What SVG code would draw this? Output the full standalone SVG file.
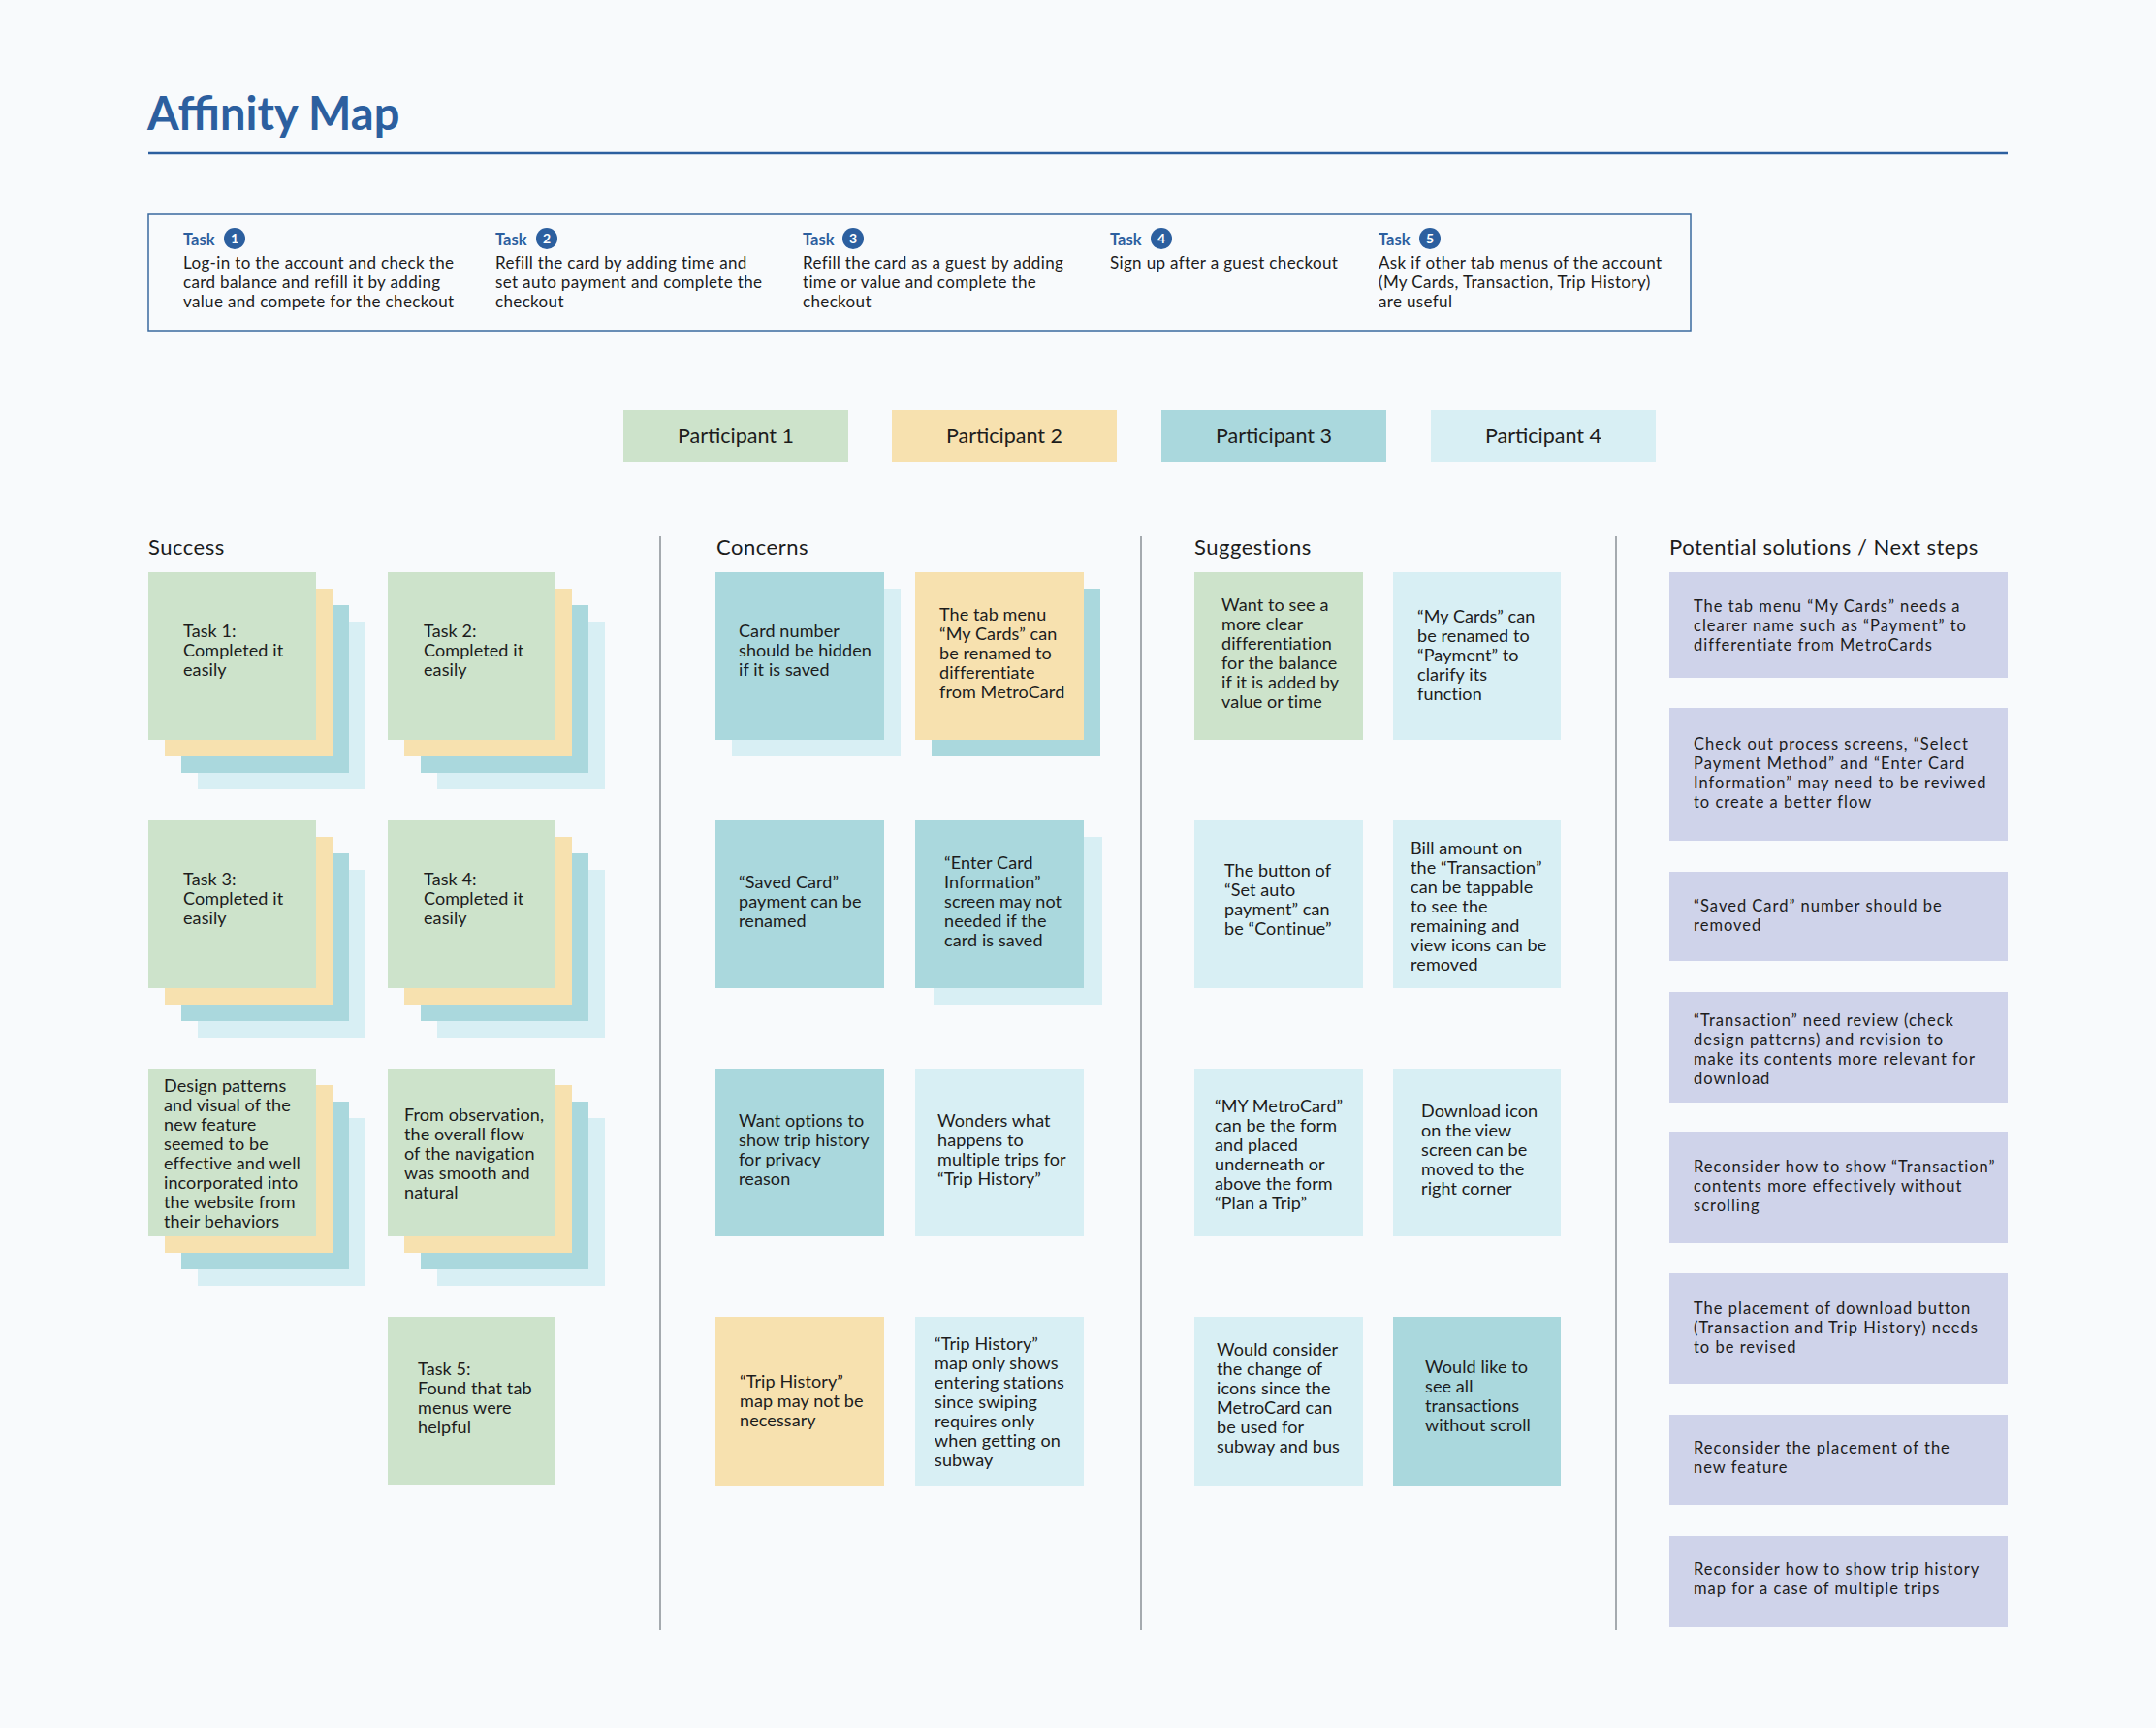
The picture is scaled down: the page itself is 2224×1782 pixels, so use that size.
<svg xmlns="http://www.w3.org/2000/svg" width="2224" height="1782" viewBox="0 0 2224 1782">
<style>
.bg{fill:#f8fafc}
.g{fill:#cde3cb}.y{fill:#f7e1af}.t{fill:#aad8dd}.l{fill:#d8eff4}.v{fill:#cfd3ea}
text{font-family:Lato,"Open Sans",sans-serif;fill:#1c1c1c}
.n{font-size:18px;letter-spacing:0.1px}
.sol{font-size:16.5px;letter-spacing:1px}
.hdr{font-size:22px;letter-spacing:0.5px}
.title{font-size:47px;font-weight:700;fill:#2c5f9f}
.tl{font-size:16.5px;font-weight:700;fill:#2c5f9f}
.tb{font-size:17px;letter-spacing:0.35px}
.num{font-size:14px;font-weight:700;fill:#ffffff}
.circ{fill:#2c5f9f}
.pt{font-size:21.5px;text-anchor:middle}
.div{stroke:#8a8f96;stroke-width:1.5}
</style>
<rect class="bg" x="0" y="0" width="2224" height="1782"/>

<g id="header">
<text class="title" x="152" y="134">Affinity Map</text>
<line x1="153" y1="158" x2="2071" y2="158" stroke="#2c5f9f" stroke-width="2.5"/>
</g>

<g id="tasks">
<rect x="153" y="221" width="1591" height="120" fill="none" stroke="#3a6a9e" stroke-width="1.5"/>
<g id="task1">
<text class="tl" x="189" y="253">Task</text><circle class="circ" cx="242" cy="246" r="11"/><text class="num" x="242" y="251" text-anchor="middle">1</text>
<text class="tb" x="189" y="277">Log-in to the account and check the<tspan x="189" dy="20">card balance and refill it by adding</tspan><tspan x="189" dy="20">value and compete for the checkout</tspan></text>
</g>
<g id="task2">
<text class="tl" x="511" y="253">Task</text><circle class="circ" cx="564" cy="246" r="11"/><text class="num" x="564" y="251" text-anchor="middle">2</text>
<text class="tb" x="511" y="277">Refill the card by adding time and<tspan x="511" dy="20">set auto payment and complete the</tspan><tspan x="511" dy="20">checkout</tspan></text>
</g>
<g id="task3">
<text class="tl" x="828" y="253">Task</text><circle class="circ" cx="880" cy="246" r="11"/><text class="num" x="880" y="251" text-anchor="middle">3</text>
<text class="tb" x="828" y="277">Refill the card as a guest by adding<tspan x="828" dy="20">time or value and complete the</tspan><tspan x="828" dy="20">checkout</tspan></text>
</g>
<g id="task4">
<text class="tl" x="1145" y="253">Task</text><circle class="circ" cx="1198" cy="246" r="11"/><text class="num" x="1198" y="251" text-anchor="middle">4</text>
<text class="tb" x="1145" y="277">Sign up after a guest checkout</text>
</g>
<g id="task5">
<text class="tl" x="1422" y="253">Task</text><circle class="circ" cx="1475" cy="246" r="11"/><text class="num" x="1475" y="251" text-anchor="middle">5</text>
<text class="tb" x="1422" y="277">Ask if other tab menus of the account<tspan x="1422" dy="20">(My Cards, Transaction, Trip History)</tspan><tspan x="1422" dy="20">are useful</tspan></text>
</g>
</g>

<g id="participants">
<g id="p1"><rect class="g" x="643" y="423" width="232" height="53"/><text class="pt" x="759" y="457">Participant 1</text></g>
<g id="p2"><rect class="y" x="920" y="423" width="232" height="53"/><text class="pt" x="1036" y="457">Participant 2</text></g>
<g id="p3"><rect class="t" x="1198" y="423" width="232" height="53"/><text class="pt" x="1314" y="457">Participant 3</text></g>
<g id="p4"><rect class="l" x="1476" y="423" width="232" height="53"/><text class="pt" x="1592" y="457">Participant 4</text></g>
</g>

<g id="dividers">
<line class="div" x1="681" y1="553" x2="681" y2="1681"/>
<line class="div" x1="1177" y1="553" x2="1177" y2="1681"/>
<line class="div" x1="1667" y1="553" x2="1667" y2="1681"/>
</g>

<g id="section-headers">
<text class="hdr" x="153" y="572">Success</text>
<text class="hdr" x="739" y="572">Concerns</text>
<text class="hdr" x="1232" y="572">Suggestions</text>
<text class="hdr" x="1722" y="572">Potential solutions / Next steps</text>
</g>

<g id="connectors"/>

<!-- Success -->
<g id="s-task1">
<rect class="l" x="204" y="641" width="173" height="173"/><rect class="t" x="187" y="624" width="173" height="173"/><rect class="y" x="170" y="607" width="173" height="173"/><rect class="g" x="153" y="590" width="173" height="173"/>
<text class="n" x="189" y="657">Task 1:<tspan x="189" dy="20">Completed it</tspan><tspan x="189" dy="20">easily</tspan></text>
</g>
<g id="s-task2">
<rect class="l" x="451" y="641" width="173" height="173"/><rect class="t" x="434" y="624" width="173" height="173"/><rect class="y" x="417" y="607" width="173" height="173"/><rect class="g" x="400" y="590" width="173" height="173"/>
<text class="n" x="437" y="657">Task 2:<tspan x="437" dy="20">Completed it</tspan><tspan x="437" dy="20">easily</tspan></text>
</g>
<g id="s-task3">
<rect class="l" x="204" y="897" width="173" height="173"/><rect class="t" x="187" y="880" width="173" height="173"/><rect class="y" x="170" y="863" width="173" height="173"/><rect class="g" x="153" y="846" width="173" height="173"/>
<text class="n" x="189" y="913">Task 3:<tspan x="189" dy="20">Completed it</tspan><tspan x="189" dy="20">easily</tspan></text>
</g>
<g id="s-task4">
<rect class="l" x="451" y="897" width="173" height="173"/><rect class="t" x="434" y="880" width="173" height="173"/><rect class="y" x="417" y="863" width="173" height="173"/><rect class="g" x="400" y="846" width="173" height="173"/>
<text class="n" x="437" y="913">Task 4:<tspan x="437" dy="20">Completed it</tspan><tspan x="437" dy="20">easily</tspan></text>
</g>
<g id="s-design">
<rect class="l" x="204" y="1153" width="173" height="173"/><rect class="t" x="187" y="1136" width="173" height="173"/><rect class="y" x="170" y="1119" width="173" height="173"/><rect class="g" x="153" y="1102" width="173" height="173"/>
<text class="n" x="169" y="1126">Design patterns<tspan x="169" dy="20">and visual of the</tspan><tspan x="169" dy="20">new feature</tspan><tspan x="169" dy="20">seemed to be</tspan><tspan x="169" dy="20">effective and well</tspan><tspan x="169" dy="20">incorporated into</tspan><tspan x="169" dy="20">the website from</tspan><tspan x="169" dy="20">their behaviors</tspan></text>
</g>
<g id="s-observation">
<rect class="l" x="451" y="1153" width="173" height="173"/><rect class="t" x="434" y="1136" width="173" height="173"/><rect class="y" x="417" y="1119" width="173" height="173"/><rect class="g" x="400" y="1102" width="173" height="173"/>
<text class="n" x="417" y="1156">From observation,<tspan x="417" dy="20">the overall flow</tspan><tspan x="417" dy="20">of the navigation</tspan><tspan x="417" dy="20">was smooth and</tspan><tspan x="417" dy="20">natural</tspan></text>
</g>
<g id="s-task5">
<rect class="g" x="400" y="1358" width="173" height="173"/>
<text class="n" x="431" y="1418">Task 5:<tspan x="431" dy="20">Found that tab</tspan><tspan x="431" dy="20">menus were</tspan><tspan x="431" dy="20">helpful</tspan></text>
</g>

<!-- Concerns -->
<g id="c-card-number">
<rect class="l" x="755" y="607" width="174" height="173"/><rect class="t" x="738" y="590" width="174" height="173"/>
<text class="n" x="762" y="657">Card number<tspan x="762" dy="20">should be hidden</tspan><tspan x="762" dy="20">if it is saved</tspan></text>
</g>
<g id="c-tab-menu">
<rect class="t" x="961" y="607" width="174" height="173"/><rect class="y" x="944" y="590" width="174" height="173"/>
<text class="n" x="969" y="640">The tab menu<tspan x="969" dy="20">“My Cards” can</tspan><tspan x="969" dy="20">be renamed to</tspan><tspan x="969" dy="20">differentiate</tspan><tspan x="969" dy="20">from MetroCard</tspan></text>
</g>
<g id="c-saved-card">
<rect class="t" x="738" y="846" width="174" height="173"/>
<text class="n" x="762" y="916">“Saved Card”<tspan x="762" dy="20">payment can be</tspan><tspan x="762" dy="20">renamed</tspan></text>
</g>
<g id="c-enter-card">
<rect class="l" x="963" y="863" width="174" height="173"/><rect class="t" x="944" y="846" width="174" height="173"/>
<text class="n" x="974" y="896">“Enter Card<tspan x="974" dy="20">Information”</tspan><tspan x="974" dy="20">screen may not</tspan><tspan x="974" dy="20">needed if the</tspan><tspan x="974" dy="20">card is saved</tspan></text>
</g>
<g id="c-want-options">
<rect class="t" x="738" y="1102" width="174" height="173"/>
<text class="n" x="762" y="1162">Want options to<tspan x="762" dy="20">show trip history</tspan><tspan x="762" dy="20">for privacy</tspan><tspan x="762" dy="20">reason</tspan></text>
</g>
<g id="c-wonders">
<rect class="l" x="944" y="1102" width="174" height="173"/>
<text class="n" x="967" y="1162">Wonders what<tspan x="967" dy="20">happens to</tspan><tspan x="967" dy="20">multiple trips for</tspan><tspan x="967" dy="20">“Trip History”</tspan></text>
</g>
<g id="c-trip-map">
<rect class="y" x="738" y="1358" width="174" height="174"/>
<text class="n" x="763" y="1431">“Trip History”<tspan x="763" dy="20">map may not be</tspan><tspan x="763" dy="20">necessary</tspan></text>
</g>
<g id="c-trip-entering">
<rect class="l" x="944" y="1358" width="174" height="174"/>
<text class="n" x="964" y="1392">“Trip History”<tspan x="964" dy="20">map only shows</tspan><tspan x="964" dy="20">entering stations</tspan><tspan x="964" dy="20">since swiping</tspan><tspan x="964" dy="20">requires only</tspan><tspan x="964" dy="20">when getting on</tspan><tspan x="964" dy="20">subway</tspan></text>
</g>

<!-- Suggestions -->
<g id="g-differentiation">
<rect class="g" x="1232" y="590" width="174" height="173"/>
<text class="n" x="1260" y="630">Want to see a<tspan x="1260" dy="20">more clear</tspan><tspan x="1260" dy="20">differentiation</tspan><tspan x="1260" dy="20">for the balance</tspan><tspan x="1260" dy="20">if it is added by</tspan><tspan x="1260" dy="20">value or time</tspan></text>
</g>
<g id="g-payment">
<rect class="l" x="1437" y="590" width="173" height="173"/>
<text class="n" x="1462" y="642">“My Cards” can<tspan x="1462" dy="20">be renamed to</tspan><tspan x="1462" dy="20">“Payment” to</tspan><tspan x="1462" dy="20">clarify its</tspan><tspan x="1462" dy="20">function</tspan></text>
</g>
<g id="g-continue">
<rect class="l" x="1232" y="846" width="174" height="173"/>
<text class="n" x="1263" y="904">The button of<tspan x="1263" dy="20">“Set auto</tspan><tspan x="1263" dy="20">payment” can</tspan><tspan x="1263" dy="20">be “Continue”</tspan></text>
</g>
<g id="g-bill">
<rect class="l" x="1437" y="846" width="173" height="173"/>
<text class="n" x="1455" y="881">Bill amount on<tspan x="1455" dy="20">the “Transaction”</tspan><tspan x="1455" dy="20">can be tappable</tspan><tspan x="1455" dy="20">to see the</tspan><tspan x="1455" dy="20">remaining and</tspan><tspan x="1455" dy="20">view icons can be</tspan><tspan x="1455" dy="20">removed</tspan></text>
</g>
<g id="g-metrocard">
<rect class="l" x="1232" y="1102" width="174" height="173"/>
<text class="n" x="1253" y="1147">“MY MetroCard”<tspan x="1253" dy="20">can be the form</tspan><tspan x="1253" dy="20">and placed</tspan><tspan x="1253" dy="20">underneath or</tspan><tspan x="1253" dy="20">above the form</tspan><tspan x="1253" dy="20">“Plan a Trip”</tspan></text>
</g>
<g id="g-download">
<rect class="l" x="1437" y="1102" width="173" height="173"/>
<text class="n" x="1466" y="1152">Download icon<tspan x="1466" dy="20">on the view</tspan><tspan x="1466" dy="20">screen can be</tspan><tspan x="1466" dy="20">moved to the</tspan><tspan x="1466" dy="20">right corner</tspan></text>
</g>
<g id="g-icons">
<rect class="l" x="1232" y="1358" width="174" height="174"/>
<text class="n" x="1255" y="1398">Would consider<tspan x="1255" dy="20">the change of</tspan><tspan x="1255" dy="20">icons since the</tspan><tspan x="1255" dy="20">MetroCard can</tspan><tspan x="1255" dy="20">be used for</tspan><tspan x="1255" dy="20">subway and bus</tspan></text>
</g>
<g id="g-transactions">
<rect class="t" x="1437" y="1358" width="173" height="174"/>
<text class="n" x="1470" y="1416">Would like to<tspan x="1470" dy="20">see all</tspan><tspan x="1470" dy="20">transactions</tspan><tspan x="1470" dy="20">without scroll</tspan></text>
</g>

<!-- Potential solutions -->
<g id="ps1">
<rect class="v" x="1722" y="590" width="349" height="109"/>
<text class="sol" x="1747" y="631">The tab menu “My Cards” needs a<tspan x="1747" dy="20">clearer name such as “Payment” to</tspan><tspan x="1747" dy="20">differentiate from MetroCards</tspan></text>
</g>
<g id="ps2">
<rect class="v" x="1722" y="730" width="349" height="137"/>
<text class="sol" x="1747" y="773">Check out process screens, “Select<tspan x="1747" dy="20">Payment Method” and “Enter Card</tspan><tspan x="1747" dy="20">Information” may need to be reviwed</tspan><tspan x="1747" dy="20">to create a better flow</tspan></text>
</g>
<g id="ps3">
<rect class="v" x="1722" y="899" width="349" height="92"/>
<text class="sol" x="1747" y="940">“Saved Card” number should be<tspan x="1747" dy="20">removed</tspan></text>
</g>
<g id="ps4">
<rect class="v" x="1722" y="1023" width="349" height="114"/>
<text class="sol" x="1747" y="1058">“Transaction” need review (check<tspan x="1747" dy="20">design patterns) and revision to</tspan><tspan x="1747" dy="20">make its contents more relevant for</tspan><tspan x="1747" dy="20">download</tspan></text>
</g>
<g id="ps5">
<rect class="v" x="1722" y="1167" width="349" height="115"/>
<text class="sol" x="1747" y="1209">Reconsider how to show “Transaction”<tspan x="1747" dy="20">contents more effectively without</tspan><tspan x="1747" dy="20">scrolling</tspan></text>
</g>
<g id="ps6">
<rect class="v" x="1722" y="1313" width="349" height="114"/>
<text class="sol" x="1747" y="1355">The placement of download button<tspan x="1747" dy="20">(Transaction and Trip History) needs</tspan><tspan x="1747" dy="20">to be revised</tspan></text>
</g>
<g id="ps7">
<rect class="v" x="1722" y="1459" width="349" height="93"/>
<text class="sol" x="1747" y="1499">Reconsider the placement of the<tspan x="1747" dy="20">new feature</tspan></text>
</g>
<g id="ps8">
<rect class="v" x="1722" y="1584" width="349" height="94"/>
<text class="sol" x="1747" y="1624">Reconsider how to show trip history<tspan x="1747" dy="20">map for a case of multiple trips</tspan></text>
</g>
</svg>
